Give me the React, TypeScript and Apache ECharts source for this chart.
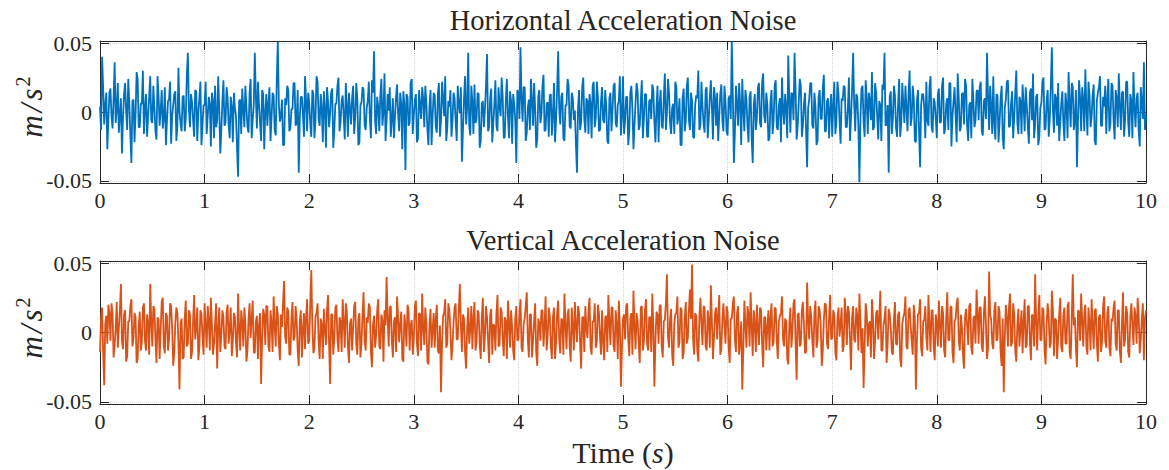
import { useEffect, useRef } from "react";
import * as echarts from "echarts";

// time axis
const timeMin = 0;
const timeMax = 10;
const timeStep = 1;
const sampleStep = 0.01; // seconds between samples

// y ticks
const yTickValues = [-0.05, 0, 0.05];
const yLimit = 0.0515;

// noise samples in milli m/s^2
const horizontalNoise = [
  4, -13, 40, 18, -9, 5, 14, -27, -6, 14, 17, -3, -12, 10, 36, -8, 2, 21, -15, -2,
  10, -30, -4, 13, 21, 0, -13, 24, 7, -16, -37, 8, 9, -22, -2, 29, 24, -11, -11, 6,
  6, 30, -16, 3, 13, -18, -3, 11, 26, -6, -8, 19, 3, -14, -20, 26, 11, -10, 1, 16,
  -12, -5, 18, -24, -7, 8, 9, 22, -23, -3, 5, 13, 15, -21, -10, 32, 0, -8, -14, 11,
  12, -14, -5, 27, 43, 2, -11, 13, 7, -6, -18, 16, 15, -21, -1, 10, 22, -24, -9, 5,
  5, 22, -16, -3, 11, 6, -25, 14, 8, -19, 19, -11, -6, 26, 2, -30, -13, 8, 23, -10,
  -8, 18, 10, -10, -19, 11, 4, -22, 14, 3, -3, -26, -47, 8, 9, -16, 17, 2, -11, 19,
  3, -11, -15, 14, 24, -19, -5, 5, 43, 11, -12, 22, 6, -8, -21, 16, 13, -27, 0, 13,
  -10, 6, 18, -21, -4, 14, 12, -13, -17, 24, 51, 5, -7, -3, 9, -24, -24, 10, 5, 19,
  16, -14, -12, 2, 2, 21, 21, -10, -8, 16, -44, -5, 11, 11, -2, -18, 26, 8, -14, 14,
  7, -8, -18, 16, 13, -19, -6, 26, 22, -5, -10, 13, 3, -22, 15, 3, -26, 18, 8, -11,
  -1, 14, 17, -26, -13, 6, 6, 19, 25, -14, -7, 8, 12, -3, -20, 21, 4, -18, 14, 2,
  -9, 10, 19, -16, -4, 21, 10, -24, -22, 5, 7, 18, 16, -10, -13, 3, 8, 22, -5, -19,
  23, 14, 44, -6, -16, 11, 4, -14, 12, 24, -10, 0, 28, -21, -6, 13, 1, 18, -18, -5,
  10, -19, -4, 11, 20, -2, -14, 14, 6, -27, 15, 6, -42, 13, 11, -10, -8, 21, 24, -16,
  -2, 8, 13, -22, -19, 16, 5, -5, 18, 10, -11, 19, 7, -13, -24, 5, 16, -24, -3, 14,
  12, -11, -15, 13, 21, -18, -6, 22, 9, -3, 26, -21, -12, 8, 4, 16, -18, -6, 14, 10,
  -7, -21, 19, 5, -1, 18, -36, -13, 10, 26, -9, 3, 43, -10, -17, 19, 7, -16, 20, -8,
  -5, 14, 13, -26, -21, 6, 8, -11, 2, 19, 42, -14, -11, 10, 17, -22, -8, 5, 23, -10,
  -14, 18, 4, -3, 25, 11, -19, -18, 9, 24, -3, -19, 15, 8, -23, 13, 6, -6, -37, 16,
  14, -5, 47, 10, -7, 18, 18, -21, -15, 3, 9, -13, 24, 8, -10, 21, 3, -26, -20, 11,
  16, -8, -2, 19, 27, -14, -13, 6, 7, -18, 12, 13, -17, -2, 21, -22, -6, 16, 44, 3,
  -9, 11, 14, -19, -21, 5, 5, 24, 19, -10, -12, 14, 10, -6, 1, -24, -44, 3, 16, -13,
  -7, 18, 25, -5, -15, 10, 8, -16, 13, 6, -19, 19, 22, -11, -4, 22, 11, -14, -13, 8,
  18, -6, -8, 16, 4, -21, -23, 10, 14, -14, 2, 19, 21, -8, -11, 5, 8, 26, -17, -3,
  26, -16, -6, 11, 11, -24, -14, 14, 19, 2, -27, -10, 7, 21, 15, -13, -10, 8, 23, -19,
  -4, 13, 13, -18, -18, 8, 9, -5, 20, 16, -7, -22, 3, 19, -22, 6, 16, -10, -12, 11,
  28, -13, -1, 24, 14, -8, -16, 3, 6, -16, 22, 18, -9, -3, 10, -24, -24, 10, 17, -14,
  -7, 19, 25, -6, -13, 14, 8, -18, -19, 5, 12, 10, 30, -13, -10, 22, 4, -8, -15, 16,
  18, -19, -5, 11, 23, 3, -20, 18, 10, -10, 14, -21, -3, 13, 20, -6, -14, 19, 8, -14,
  -17, 10, 12, -5, 51, 13, -37, -14, 19, 6, -10, 21, 6, -24, 24, 3, -14, 16, 9, -10,
  -22, 11, 15, -19, -37, 5, 13, -13, -4, 18, 21, -8, -11, 22, 28, -3, -8, 14, 5, -21,
  -19, 8, 16, -16, -6, 19, 23, -11, -13, 5, 10, -22, 25, 2, -9, 13, 3, -19, 41, 10,
  -15, 14, 13, -6, 43, 16, -20, -10, 7, 24, 19, -18, -10, 6, 14, -13, -40, 3, 9, 21,
  21, -10, -12, 14, 4, -24, -21, 11, 16, -5, -5, 18, 27, -14, -14, 8, 10, -19, 2, 13,
  -18, 5, 22, -16, -7, 22, 13, -6, -23, 10, 8, 19, 18, -11, -11, 3, 25, -21, -4, 16,
  43, 6, -14, 13, 11, -10, -51, -5, 17, 19, -7, -18, 23, 10, -16, 14, 8, -6, 29, -13,
  -11, 21, 14, -3, -20, 8, 5, -21, 20, 16, 43, -10, -9, 5, -44, 11, 15, -16, -5, 19,
  12, -11, -18, 6, 24, -18, -8, 21, 6, -8, 19, 3, -14, 14, 30, -10, -4, 19, 10, -21,
  -22, 8, 16, -14, -40, 5, 13, 13, 3, -19, 22, -6, -10, 18, 26, -11, -15, 10, 7, -5,
  -19, 13, 17, -8, -7, 19, 25, -16, -12, 6, 10, -13, 21, 21, -25, -3, 8, 18, -3, -22,
  28, 10, -14, -11, 13, 14, -9, 24, 19, -10, -21, 5, 7, -19, 24, 8, -11, -6, 15, 16,
  -6, 18, 22, -14, -17, 8, 10, -5, 43, 11, -13, 19, 4, -16, 26, -8, -20, 13, 12, -22,
  -8, 10, 19, -18, -27, 3, 9, 22, 23, -11, -10, 6, 15, -19, -4, 14, 30, -8, -16, 11,
  8, -16, 20, 5, -14, 18, 5, -10, -23, 14, 17, -6, 28, -19, -9, 11, 13, -24, -18, 3,
  7, 22, 25, -13, -12, 8, 16, -18, -5, 19, 47, 2, -15, 13, 10, -10, 21, -21, -8, 6,
  15, -8, -21, 14, 6, -19, 29, 6, -11, 21, 18, -13, -7, 16, -40, -5, 23, 10, -14, 18,
  9, -14, 31, 3, -17, 22, 12, -11, -3, 13, 20, -21, -24, 8, 14, 18, 26, -10, -10, 11,
  4, 19, -16, 10, 24, -14, -8, 21, 19, -6, -20, 16, 10, -11, 28, 5, -13, 14, 15, -18,
  -6, 22, 22, -8, -18, 13, 8, -19, 29, 3, -11, 10, 14, -14, -25, 18, 7, -5, 36, -13,
  -2,
];

const verticalNoise = [
  -14, 10, 18, -14, -38, 6, 12, -8, 20, 14, -6, 21, 14, -18, -9, 3, 22, -11, 3, 16,
  35, -6, -12, 13, 16, -21, -17, 8, 8, 19, 24, -10, -4, 14, 11, -22, -19, 5, 15, -13,
  -7, 18, 21, -6, -13, 13, 6, -16, 35, 8, -10, 19, 17, -5, -22, 11, 9, -19, 2, 22,
  25, -10, -15, 14, 12, -13, -5, 21, 19, 3, -24, -14, 7, 18, 14, -8, -41, 6, 10, -19,
  -18, 11, 23, -10, -8, 16, 13, -19, -14, 8, 27, -5, 4, 18, -20, -11, 16, 13, -3, -16,
  21, 5, -11, 19, 9, -13, 25, 6, -16, -8, 6, 21, -26, 3, 18, -14, -2, 16, 11, -10,
  -12, 14, 20, -8, 3, 18, -17, -6, 14, 11, -7, -18, 28, 3, -13, 16, 8, -10, 18, 6,
  -21, -13, 10, 21, -4, 10, 23, -14, -15, 8, 12, -19, 5, 14, -37, -5, 17, 13, -9, 19,
  19, -10, -14, 16, 7, -14, 26, 5, -10, 19, 13, -8, -20, 13, 4, 22, 37, -3, -8, 18,
  15, -16, -16, 10, 22, -6, -3, 19, 9, -13, -24, 8, 16, -18, 2, 14, -12, 11, 24, -8,
  -6, 19, 45, 5, -15, -11, 11, 14, 21, -6, -19, 10, 6, -19, 17, 3, -9, 16, 27, -8,
  -37, 13, 13, -16, -4, 18, 20, -5, -14, 11, 8, -14, 24, 8, -11, 21, 15, -10, -22, 6,
  10, -13, 3, 19, 22, -8, -16, 10, 14, -18, -8, 14, 29, -6, -13, 11, 7, 21, 18, -14,
  -25, 6, 12, -11, -2, 16, 24, -10, -12, 13, 9, -21, 16, 5, 40, 10, -10, 18, 19, -6,
  -18, 8, 11, -14, 26, 11, -7, 6, 15, -19, -21, 13, 5, -10, 20, 16, -13, 5, 9, -16,
  -4, 19, 23, -8, -17, 14, 13, -13, 28, 3, -9, 18, 6, -21, -23, 6, 17, -11, 2, 14,
  -11, 10, 20, -13, -15, 5, -43, -8, 12, 14, 24, -11, -8, 21, 16, 2, -20, -10, 7, 18,
  21, -5, -5, 16, 35, 6, -14, 13, 10, -14, -26, 3, 18, -8, 3, 19, -12, 10, 22, -13,
  -7, 16, 14, -8, -19, 10, 25, -14, -3, 19, 11, -6, -22, 13, 17, -16, 6, 5, -13, 14,
  27, -10, -9, 18, 15, -5, -17, 11, 8, -19, 23, 8, -11, 16, 4, -13, -20, 10, 19, -6,
  -5, 14, 24, -11, -14, 6, 10, 19, 29, -5, -18, 13, 13, -18, -6, 8, 21, -14, -24, 10,
  7, -6, 16, 16, -10, 5, 26, -13, -2, 18, 12, -10, -19, 11, 18, -19, -8, 14, 23, -5,
  -15, 10, 9, -16, 28, 6, -12, 13, 17, -10, -21, 18, 5, -13, 22, 5, -7, 19, 14, -8,
  -26, 11, 11, -14, 19, 3, -4, 16, 25, -11, -16, 8, 8, 21, -11, -6, 20, 14, -3, -16,
  16, -6, -20, 11, 12, -14, 27, 8, -9, 18, 18, -10, -14, 16, 6, -19, 23, 5, -39, -11,
  10, 13, -5, 19, 21, -5, -17, 10, 14, -16, 30, 6, -12, 14, 8, -8, -22, 18, 19, -13,
  -6, 16, 24, -8, -13, 11, 11, -14, 28, 5, -39, -6, 15, 13, -8, 19, 20, -10, -18, 8,
  9, 21, 42, -3, -11, 10, 17, -16, -24, 6, 13, 14, 26, -11, -7, 18, 16, -19, -15, 10,
  22, -8, -4, 16, 31, 10, 49, -5, -16, 14, 12, -13, -21, 11, 25, 6, -9, 19, 18, -10,
  -13, 16, 8, -11, 34, 8, -19, -3, 14, 18, -5, 13, 27, -16, -12, 10, 21, 5, -8, 19,
  15, -11, -22, 10, 10, 21, 26, -6, -14, 14, 19, -16, -6, 8, -41, -13, 23, 6, -11, 19,
  13, -10, 29, 5, -17, 16, 7, -14, 20, 3, -9, 18, 16, -8, -25, 11, 11, -13, 4, 16,
  -13, 11, 21, -10, -7, 18, 17, -6, -19, 8, 12, 14, 26, -5, -10, 10, 8, -19, -23, 6,
  18, -11, 2, 21, 24, -8, -34, 13, 14, -10, -8, 16, 22, 5, -15, -14, 36, 8, -5, 19,
  11, -6, -18, 14, 23, -11, -6, 19, 16, 6, -24, -13, 9, 21, 20, -8, -12, 11, 27, -5,
  -4, 16, 13, -14, -20, 10, 18, -3, 6, 18, -14, -10, 25, 13, -9, 19, 15, -6, -27, 11,
  19, -5, -7, 18, 12, -13, 28, 8, -15, 3, -40, -10, 21, 14, -10, 6, 8, -18, 24, 10,
  -19, -6, 14, 16, -5, 11, 30, -13, -13, 5, 10, 19, -22, -8, 17, 13, 3, -14, -16, 10,
  22, -8, -9, 13, 15, -19, -25, 6, 11, 14, 26, -10, -12, 16, 18, 5, -6, -16, 20, 11,
  -41, -6, 13, 14, 24, -11, -17, 8, 9, 19, -3, -13, 27, 6, -14, 16, 16, -10, -20, 13,
  7, -10, 23, 6, -11, 19, 14, -13, -18, 10, 29, -5, -6, 18, 19, -14, -22, 8, 10, 21,
  25, -6, -13, 13, 4, -16, -26, 11, 17, 5, -9, 19, 21, -11, -16, 10, 12, -8, 31, 14,
  -8, 18, 18, -10, -14, 14, 26, 5, -19, -11, 44, 13, 9, -8, -12, 16, 22, -6, -5, 19,
  15, -14, -24, 10, -43, -5, 20, 11, -10, 18, 28, -10, -7, 21, 13, -13, -21, 6, 17, -10,
  3, 16, -15, 8, 24, -11, -9, 19, 19, -6, -20, 13, 12, -10, 42, 8, -13, 14, 27, -5,
  -6, 18, 16, -13, -23, 6, 21, 11, -11, -8, 30, 16, -17, 10, 9, -19, -4, 13, 25, -11,
  -14, 13, 18, -8, -8, 19, 22, -14, -19, 10, 42, 5, 11, -11, -25, 16, 15, -6, 28, 8,
  -10, 14, 20, -10, -16, 18, 7, -13, 24, 6, -12, 16, 17, -8, -21, 11, 13, -14, -6, 19,
  26, -6, -11, 14, 19, -11, -17, 10, 8, 18, 23, -8, -13, 16, 16, -13, -22, 6, 29, -10,
  -5, 19, 14, -14, -18, 11, 21, 5, -9, 18, 12, -8, 25, 13, -15, -5, 10, 21, -20, 10,
  16,
];

const topTitle = "Horizontal Acceleration Noise";
const bottomTitle = "Vertical Acceleration Noise";
const xAxisTitle = "Time";

const BLUE = "#0072BD";
const ORANGE = "#D95319";
const AXIS = "#262626";
const GRIDLINE = "#d4d4d4";
const FONT = "Liberation Serif";

const toPairs = (arr: number[]) => arr.map((v, i) => [i * sampleStep, v / 1000]);

export default function App() {
  const ref = useRef<HTMLDivElement>(null);
  useEffect(() => {
    if (!ref.current) return;
    const chart = echarts.init(ref.current, null, { renderer: "svg" });

    const grids = [
      { left: 100, right: 23, top: 41, height: 142 },
      { left: 100, right: 23, top: 261, height: 143 },
    ];

    const xBottom = (gridIndex: number) => ({
      type: "value",
      gridIndex,
      min: timeMin,
      max: timeMax,
      interval: timeStep,
      position: "bottom",
      axisLine: { show: true, onZero: false, lineStyle: { color: AXIS, width: 1 } },
      axisTick: { show: true, inside: true, length: 9, lineStyle: { color: AXIS, width: 1 } },
      axisLabel: { show: true, color: AXIS, fontFamily: FONT, fontSize: 22, margin: 6 },
      splitLine: { show: true, lineStyle: { color: GRIDLINE, type: "dotted", width: 1 } },
    });
    const xTop = (gridIndex: number) => ({
      type: "value",
      gridIndex,
      min: timeMin,
      max: timeMax,
      interval: timeStep,
      position: "top",
      axisLine: { show: true, onZero: false, lineStyle: { color: AXIS, width: 1 } },
      axisTick: { show: true, inside: true, length: 9, lineStyle: { color: AXIS, width: 1 } },
      axisLabel: { show: false },
      splitLine: { show: false },
    });
    const yAxisDef = (gridIndex: number, position: string) => ({
      type: "value",
      gridIndex,
      min: -yLimit,
      max: yLimit,
      position,
      axisLine: { show: true, onZero: false, lineStyle: { color: AXIS, width: 1 } },
      axisTick: {
        show: true,
        inside: true,
        length: 9,
        customValues: yTickValues,
        lineStyle: { color: AXIS, width: 1 },
      },
      axisLabel: {
        show: position === "left",
        customValues: yTickValues,
        color: AXIS,
        fontFamily: FONT,
        fontSize: 22,
        margin: 8,
        formatter: (v: number) => (Math.abs(v) < 1e-9 ? "0" : v.toFixed(2)),
      },
      splitLine: {
        show: position === "left",
        lineStyle: { color: GRIDLINE, type: "dotted", width: 1 },
      },
    });

    const yName = (y: number) => ({
      type: "text",
      x: 30,
      y,
      rotation: Math.PI / 2,
      style: {
        text: "{i|m}{sl|/}{i|s}{sup|2}",
        align: "center",
        verticalAlign: "middle",
        rich: {
          i: { fontFamily: FONT, fontStyle: "italic", fontSize: 31, fill: AXIS, verticalAlign: "bottom", lineHeight: 34 },
          sl: { fontFamily: FONT, fontStyle: "italic", fontSize: 31, fill: AXIS, verticalAlign: "bottom", lineHeight: 34, padding: [0, 3, 0, 3] },
          sup: { fontFamily: FONT, fontSize: 20, fill: AXIS, verticalAlign: "top", lineHeight: 34, padding: [0, 0, 14, 2] },
        },
      },
    });

    const option = {
      animation: false,
      backgroundColor: "#ffffff",
      grid: grids,
      xAxis: [xBottom(0), xTop(0), xBottom(1), xTop(1)],
      yAxis: [yAxisDef(0, "left"), yAxisDef(0, "right"), yAxisDef(1, "left"), yAxisDef(1, "right")],
      series: [
        {
          type: "line",
          name: "Horizontal",
          xAxisIndex: 0,
          yAxisIndex: 0,
          data: toPairs(horizontalNoise),
          showSymbol: false,
          lineStyle: { color: BLUE, width: 1.8 },
          itemStyle: { color: BLUE },
          clip: true,
        },
        {
          type: "line",
          name: "Vertical",
          xAxisIndex: 2,
          yAxisIndex: 2,
          data: toPairs(verticalNoise),
          showSymbol: false,
          lineStyle: { color: ORANGE, width: 1.8 },
          itemStyle: { color: ORANGE },
          clip: true,
        },
      ],
      graphic: [
        {
          type: "text",
          x: 623,
          y: 20,
          style: { text: topTitle, fontFamily: FONT, fontSize: 28.5, fill: AXIS, align: "center", verticalAlign: "middle" },
        },
        {
          type: "text",
          x: 623,
          y: 240,
          style: { text: bottomTitle, fontFamily: FONT, fontSize: 28.5, fill: AXIS, align: "center", verticalAlign: "middle" },
        },
        {
          type: "text",
          x: 623,
          y: 452,
          style: {
            text: "{r|" + xAxisTitle + " (}{i|s}{r|)}",
            align: "center",
            verticalAlign: "middle",
            rich: {
              r: { fontFamily: FONT, fontSize: 30, fill: AXIS },
              i: { fontFamily: FONT, fontSize: 30, fontStyle: "italic", fill: AXIS },
            },
          },
        },
        yName(107),
        yName(328),
      ],
    };

    chart.setOption(option as any);
    return () => chart.dispose();
  }, []);

  return (
    <div
      ref={ref}
      style={{ position: "fixed", left: 0, top: 0, width: 1169, height: 470, background: "#ffffff" }}
    />
  );
}
